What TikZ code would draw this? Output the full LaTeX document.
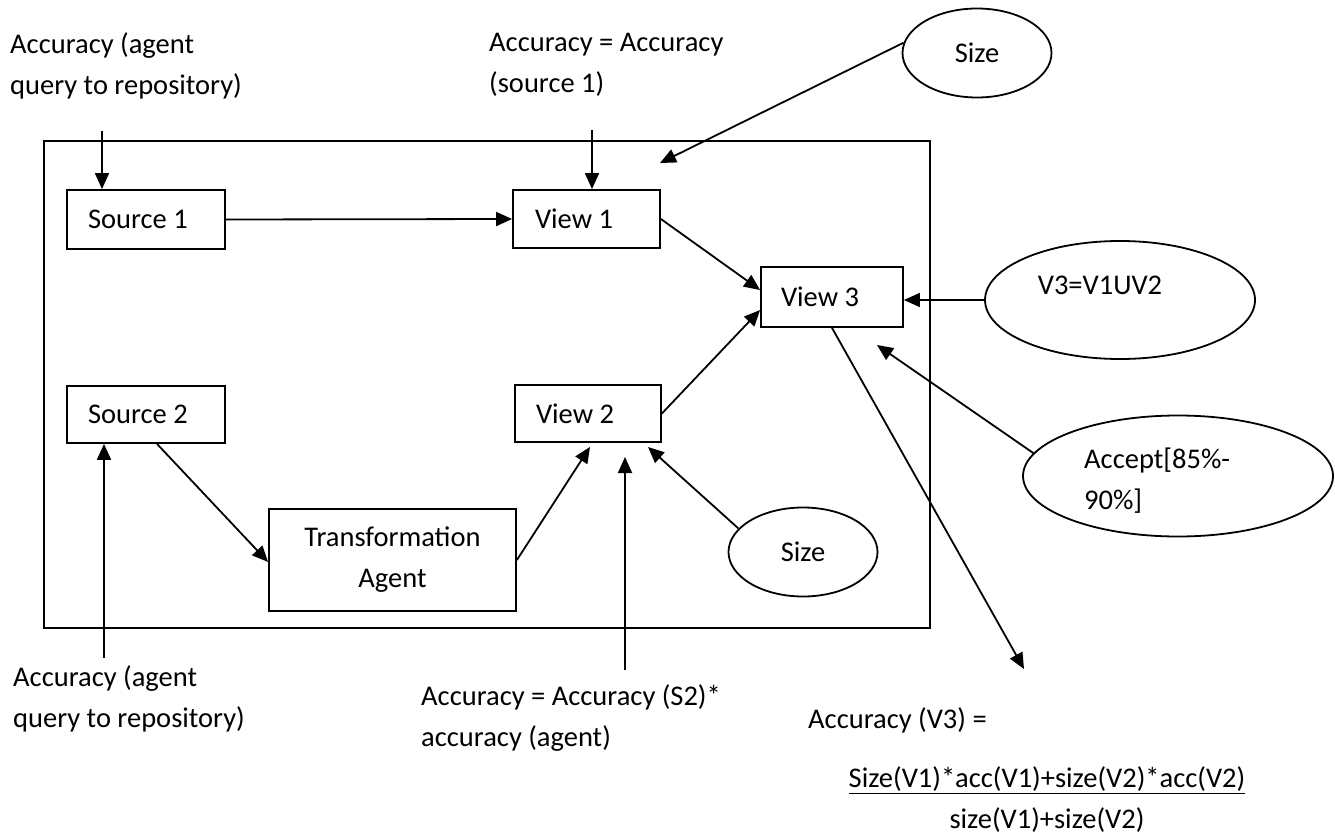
\documentclass[tikz,border=0pt]{standalone}
\usepackage{fontspec}
\setmainfont{Carlito}
\usetikzlibrary{arrows.meta,shapes.geometric}
\newcommand\diagfont{\fontsize{28.5pt}{41pt}\selectfont}
\tikzset{
  box/.style={draw, line width=1.8pt, inner ysep=0pt, align=flush left},
  oval/.style={draw, ellipse, line width=1.8pt, inner sep=0pt},
  lbl/.style={inner sep=0pt, align=flush left},
  arr/.style={-{Triangle[length=16pt,width=14pt]}, line width=1.8pt},
  frame/.style={draw, line width=1.8pt},
}
\begin{document}
\begin{tikzpicture}[x=1pt, y=-1pt, font=\diagfont]
  % page
  \fill[white] (0,0) rectangle (1335,837);
  \useasboundingbox (0,0) rectangle (1335,837);

  % enclosing system frame
  \draw[frame] (44,141) rectangle (930,628);

  % sources, views and the agent
  \node[box, inner xsep=21pt, text width=116pt, minimum height=59pt] (s1) at (146,219.5) {Source 1};
  \node[box, inner xsep=22pt, text width=103pt, minimum height=58pt] (v1) at (586.5,219) {View 1};
  \node[box, inner xsep=20pt, text width=102pt, minimum height=60pt] (v3) at (832,297) {View 3};
  \node[box, inner xsep=21pt, text width=116pt, minimum height=57pt] (s2) at (146,414.5) {Source 2};
  \node[box, inner xsep=21pt, text width=104pt, minimum height=57pt] (v2) at (588,413.5) {View 2};
  \node[box, align=center, inner xsep=0pt, text width=247pt, minimum height=102pt] (ta) at (392.5,560) {Transformation\\Agent};

  % annotation ellipses
  \node[oval, minimum width=149pt, minimum height=89pt] (size1) at (977,53) {Size};
  \node[oval, minimum width=270pt, minimum height=118pt] (v3eq) at (1120,300) {};
  \node[lbl, anchor=center] (v3txt) at (1100,285) {V3=V1UV2};
  \node[oval, minimum width=310pt, minimum height=121pt] (acc) at (1178,476) {};
  \node[lbl, anchor=west] (acctxt) at (1084,481) {Accept[85\%-\\90\%]};
  \node[oval, minimum width=149pt, minimum height=89pt] (size2) at (803,552) {Size};

  % free-standing labels
  \node[lbl, anchor=west] (lab1) at (10,66) {Accuracy (agent\\query to repository)};
  \node[lbl, anchor=west] (lab2) at (489,65) {Accuracy = Accuracy\\(source 1)};
  \node[lbl, anchor=west] (lab3) at (13,699) {Accuracy (agent\\query to repository)};
  \node[lbl, anchor=west] (lab4) at (421,718) {Accuracy = Accuracy (S2)*\\accuracy (agent)};
  \node[lbl, anchor=west] (lab5) at (808,720) {Accuracy (V3) =};
  \node[lbl, align=center, anchor=center] (frac) at (1047,800)
    {\underline{Size(V1)*acc(V1)+size(V2)*acc(V2)}\\size(V1)+size(V2)};

  % loose arrow ends
  \coordinate (q1) at (102,131);
  \coordinate (q2) at (592,130);
  \coordinate (q3) at (104,658);
  \coordinate (q4) at (625,670);
  \coordinate (p1) at (660,163);
  \coordinate (p2) at (1024,669);
  \coordinate (p3) at (625,457);
  \coordinate (p4) at (648,447);
  \coordinate (p5) at (877,345);

  % connectors
  \draw[arr] (q1) -- (q1 |- s1.north);
  \draw[arr] (q2) -- (q2 |- v1.north);
  \draw[arr] (s1.east) -- (v1.west);
  \draw[arr] (size1.172) -- (p1);
  \draw[arr] (v1.east) -- ([yshift=7pt]v3.west);
  \draw[arr] (v2.east) -- ([yshift=-13pt]v3.west);
  \draw[arr] (v3eq.west) -- (v3eq.west -| v3.east);
  \draw[arr] (acc.171) -- (p5);
  \draw[arr] (v3.south) -- (p2);
  \draw[arr] (q3) -- (q3 |- s2.south);
  \draw[arr] ([xshift=11pt]s2.south) -- ([yshift=-2pt]ta.west);
  \draw[arr] (ta.east) -- ([xshift=2pt,yshift=-4pt]v2.south);
  \draw[arr] (q4) -- (p3);
  \draw[arr] (size2.160) -- (p4);
\end{tikzpicture}
\end{document}
